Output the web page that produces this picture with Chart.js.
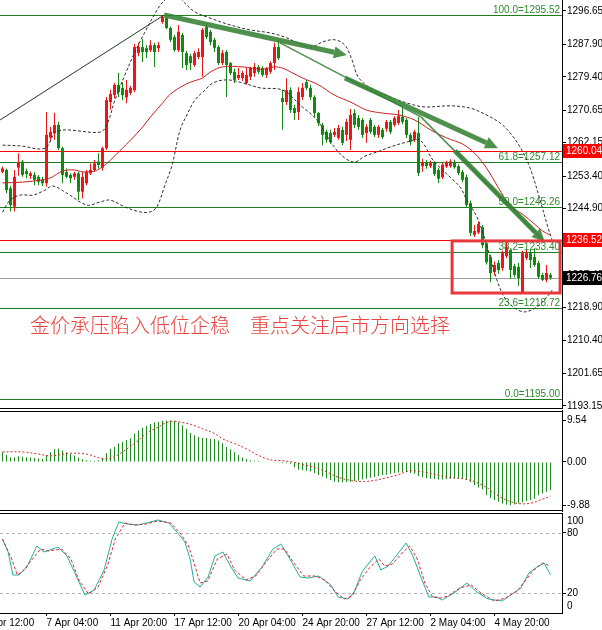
<!DOCTYPE html>
<html lang="zh">
<head>
<meta charset="UTF-8">
<title>XAUUSD H4</title>
<script src="https://cdn.jsdelivr.net/npm/chart.js"></script>
<style>
  body { margin: 0; background: #fff; width: 602px; height: 630px; overflow: hidden; position: relative; }
  canvas { position: absolute; left: 0; }
</style>
</head>
<body>
<canvas id="main" width="602" height="410" style="top:0"></canvas>
<canvas id="macd" width="602" height="102" style="top:410px"></canvas>
<canvas id="stoch" width="602" height="118" style="top:512px"></canvas>
<script>
// candles, one per H4 bar (index 0..137)
const opens = [
  1254.5,1255.0,1250.2,1245.4,1255.6,1257.2,1254.7,1253.4,1253.7,1253.2,
  1252.5,1251.5,1263.5,1264.6,1266.8,1260.7,1254.5,1253.7,1253.2,1254.1,
  1249.3,1251.5,1254.1,1255.0,1257.2,1255.6,1260.7,1272.8,1274.6,1277.3,
  1276.5,1274.0,1275.2,1275.9,1285.6,1287.2,1286.9,1286.4,1287.7,1286.9,
  1293.8,1294.8,1292.2,1289.8,1286.4,1290.4,1285.6,1284.8,1282.5,1284.6,
  1284.6,1292.5,1291.2,1289.1,1287.2,1283.0,1285.9,1283.0,1280.7,1279.1,
  1279.1,1277.8,1279.4,1280.4,1282.0,1281.7,1279.9,1280.7,1283.0,1287.2,
  1273.8,1272.8,1275.9,1271.2,1270.2,1274.1,1278.0,1276.5,1274.1,1269.9,
  1266.8,1265.0,1264.7,1264.2,1263.4,1265.5,1264.2,1262.9,1269.9,1268.6,
  1268.1,1264.7,1268.1,1266.3,1264.2,1265.5,1265.8,1267.6,1266.8,1267.3,
  1268.9,1268.1,1264.2,1262.9,1264.7,1256.0,1257.1,1256.0,1256.8,1255.0,
  1253.1,1255.9,1256.0,1257.1,1256.0,1254.5,1253.1,1246.3,1238.0,1238.6,
  1240.0,1235.8,1232.2,1228.3,1230.6,1229.3,1232.4,1234.0,1229.8,1229.6,
  1223.0,1231.9,1233.2,1232.2,1230.6,1227.5,1226.2,1227.5
];
const highs = [
  1255.9,1255.4,1250.8,1255.0,1259.4,1257.6,1255.4,1254.6,1254.5,1253.7,
  1253.2,1270.2,1266.3,1270.0,1267.6,1261.1,1255.4,1254.1,1254.5,1254.5,
  1254.5,1255.0,1256.7,1257.6,1259.4,1261.1,1274.1,1276.0,1277.8,1280.4,
  1278.0,1278.6,1277.0,1288.0,1288.3,1289.3,1287.7,1289.0,1288.3,1288.5,
  1295.52,1295.0,1292.5,1290.4,1293.0,1290.9,1286.2,1285.4,1286.2,1286.9,
  1292.2,1293.3,1291.7,1289.6,1287.7,1286.4,1286.4,1283.3,1281.5,1281.7,
  1281.0,1281.7,1282.0,1283.0,1282.5,1282.2,1282.0,1283.5,1288.3,1289.1,
  1276.0,1279.0,1276.7,1272.0,1276.7,1277.8,1278.6,1277.3,1274.6,1270.2,
  1267.3,1265.5,1265.5,1266.0,1266.8,1266.3,1268.4,1271.0,1270.9,1269.4,
  1268.6,1267.0,1268.6,1266.8,1266.8,1266.0,1268.1,1268.1,1269.1,1270.7,
  1271.5,1268.6,1264.7,1265.5,1268.9,1257.9,1257.6,1257.4,1257.3,1255.5,
  1256.8,1257.4,1257.8,1257.7,1256.5,1255.0,1253.8,1247.0,1240.6,1241.4,
  1240.6,1236.4,1232.8,1231.0,1231.4,1233.8,1236.4,1234.5,1230.4,1230.6,
  1233.8,1234.0,1234.0,1234.5,1231.2,1228.0,1230.1,1228.0
];
const lows = [
  1254.1,1248.9,1244.1,1244.1,1253.5,1253.2,1252.8,1252.6,1251.0,1251.0,
  1250.8,1250.6,1262.4,1262.9,1260.2,1251.5,1252.8,1251.5,1252.4,1247.1,
  1247.5,1251.0,1253.7,1254.5,1255.4,1254.8,1260.2,1270.8,1273.8,1274.1,
  1273.3,1272.5,1274.6,1275.4,1284.8,1283.3,1284.3,1285.9,1282.0,1285.9,
  1293.3,1291.9,1288.5,1286.0,1285.9,1281.7,1281.2,1281.2,1282.0,1284.0,
  1279.4,1289.3,1287.7,1285.9,1282.5,1282.5,1274.1,1279.9,1277.8,1278.6,
  1278.3,1277.3,1278.6,1279.4,1280.2,1279.4,1279.1,1280.2,1281.2,1283.8,
  1265.5,1272.0,1269.9,1268.1,1268.1,1273.3,1275.9,1273.3,1268.9,1266.5,
  1261.5,1262.1,1261.8,1263.6,1262.9,1261.5,1262.6,1260.2,1266.0,1265.5,
  1263.4,1262.1,1264.4,1263.6,1263.4,1263.1,1265.0,1264.4,1266.3,1266.8,
  1267.0,1263.4,1261.5,1262.3,1253.4,1254.5,1255.3,1255.5,1253.4,1251.6,
  1252.6,1255.5,1255.6,1255.3,1253.6,1251.8,1245.0,1237.7,1237.4,1238.2,
  1234.5,1230.2,1225.6,1227.4,1227.8,1228.6,1231.9,1226.4,1226.8,1224.6,
  1222.7,1231.4,1229.3,1229.6,1226.4,1225.9,1225.6,1226.2
];
const closes = [
  1255.4,1249.7,1245.8,1253.2,1256.9,1253.7,1253.9,1254.1,1252.4,1251.9,
  1251.5,1264.2,1265.0,1266.8,1260.7,1253.7,1253.2,1252.8,1254.1,1249.3,
  1253.2,1254.5,1255.0,1256.7,1256.3,1260.7,1273.3,1274.9,1277.3,1275.4,
  1274.6,1276.0,1276.5,1287.2,1287.2,1285.9,1285.9,1287.7,1285.9,1287.7,
  1295.1,1292.2,1289.1,1286.4,1291.2,1285.9,1282.5,1283.0,1285.6,1285.9,
  1291.7,1289.8,1288.5,1287.0,1283.0,1285.6,1282.5,1280.4,1278.6,1279.9,
  1280.4,1279.9,1281.7,1282.0,1280.7,1279.9,1281.7,1283.0,1287.2,1284.3,
  1272.8,1275.9,1270.7,1269.9,1275.4,1276.5,1276.5,1274.1,1269.9,1267.3,
  1264.2,1262.9,1262.3,1265.0,1266.0,1262.1,1267.6,1269.4,1266.8,1266.3,
  1264.2,1266.3,1265.0,1264.2,1266.3,1263.6,1267.6,1265.0,1268.6,1269.1,
  1267.6,1264.2,1262.3,1265.0,1254.2,1257.1,1256.0,1256.8,1253.9,1252.7,
  1256.4,1256.8,1257.2,1255.7,1254.2,1252.4,1245.8,1238.5,1239.0,1240.8,
  1235.3,1230.8,1228.0,1230.1,1228.8,1233.2,1234.8,1228.8,1227.5,1226.7,
  1233.2,1233.2,1231.4,1230.1,1227.0,1226.2,1228.0,1226.76
];

// moving average and bands, read as [bar, price]
const maLine = [
  [0,1251.6],[5,1251.8],[10,1252.4],[12,1252.9],[15,1254.7],[18,1255.0],[20,1254.5],[23,1254.7],
  [25,1255.8],[27,1257.6],[30,1260.7],[32,1262.8],[35,1266.2],[37,1268.9],[40,1272.5],[42,1274.9],
  [45,1277.0],[47,1278.0],[50,1279.1],[52,1280.7],[55,1282.0],[60,1282.0],[65,1281.4],[68,1282.0],
  [70,1281.7],[72,1280.7],[75,1279.1],[79,1277.3],[83,1274.6],[87,1272.8],[91,1270.7],[95,1269.9],
  [99,1269.4],[103,1268.1],[107,1265.5],[111,1263.4],[115,1261.8],[118,1259.4],[121,1255.5],
  [124,1250.3],[127,1245.5],[130,1243.4],[133,1240.8],[135,1239.0],[137,1237.9]
];
const bbUpper = [
  [0,1261.5],[4.4,1261.3],[10.6,1260.7],[13.1,1264.7],[15.6,1265.5],[24.4,1264.9],[26.1,1266.8],
  [28.1,1273.3],[30.6,1279.9],[33.1,1285.9],[35.6,1291.1],[38.1,1295.9],[40.1,1299.0],[43.1,1301.1],
  [45.6,1298.7],[48.1,1296.4],[51.9,1294.8],[56.9,1293.0],[61.9,1291.7],[66.9,1290.9],[70.6,1289.8],
  [74.4,1288.0],[77.4,1287.2],[79.9,1288.5],[83.1,1289.1],[85.6,1287.7],[87.4,1283.8],[88.9,1279.4],
  [91.9,1276.5],[96.9,1274.1],[101.9,1272.3],[105.6,1271.5],[111.9,1271.8],[116.9,1271.2],
  [120.6,1269.6],[124.4,1267.3],[126.9,1264.7],[129.4,1261.0],[131.9,1255.5],[134.4,1247.1],
  [136.4,1239.8],[137.4,1236.6]
];
const bbLower = [
  [0,1243.9],[1.9,1247.1],[4.4,1248.4],[7.6,1248.4],[10.6,1249.7],[12.6,1250.8],[16.1,1248.9],
  [21.1,1245.8],[24.4,1246.6],[26.9,1247.1],[30.6,1245.3],[34.4,1244.0],[36.9,1244.0],[38.6,1245.3],
  [40.6,1251.0],[42.4,1256.3],[44.4,1265.5],[46.1,1269.4],[48.1,1273.3],[50.6,1275.9],[52.6,1277.8],
  [56.1,1278.6],[60.1,1277.8],[64.4,1276.5],[70.1,1275.9],[74.4,1272.0],[78.6,1268.1],[82.6,1261.5],
  [85.6,1258.1],[88.1,1257.1],[90.6,1258.6],[93.6,1259.7],[96.9,1261.0],[101.1,1262.3],[104.4,1262.8],
  [107.6,1257.6],[111.9,1253.1],[114.4,1250.5],[116.1,1247.1],[118.6,1242.7],[120.1,1238.5],
  [121.9,1232.2],[123.6,1226.2],[125.6,1221.4],[128.1,1218.8],[130.6,1217.8],[133.6,1219.1],
  [136.1,1221.7],[137.4,1223.5]
];

const priceTicks = [1296.65,1287.90,1279.40,1270.65,1262.15,1253.40,1244.90,1236.15,1227.40,1218.90,1210.40,1201.65,1193.15];
const fibLevels = [100.0, 61.8, 50.0, 38.2, 23.6, 0.0];
const fibPrices = [1295.52, 1257.12, 1245.26, 1233.40, 1218.72, 1195.00];
const redLevels = [1260.04, 1236.52];
const bidPrice = 1226.76;

// drawn objects, in [bar, price] pairs
const thinDark = [[-0.6,1268.1],[40.4,1295.6]];
const thinGreen = [[[69.4,1288.3],[104.6,1268.9]], [[104.6,1268.9],[135.6,1236.1]]];
const arrows = [[[40.4,1295.6],[86.1,1285.1]], [[85.6,1279.1],[123.9,1260.7]], [[113.1,1260.0],[135.6,1236.1]]];
const boxBars = [112.4, 139.4];
const boxPrices = [1236.4, 1222.75];
const caption = '金价承压陷入低位企稳　重点关注后市方向选择';

// MACD
const macdHist = [
  2.2,1.6,1.0,1.1,1.3,1.2,1.1,1.0,0.9,0.8,
  0.7,1.6,2.2,2.9,3.1,2.6,2.2,1.8,1.5,1.0,
  0.6,0.4,0.3,0.3,0.4,0.9,2.0,3.0,3.5,4.2,
  4.6,5.0,5.4,6.5,7.2,7.8,8.3,8.7,9.0,9.2,
  9.4,9.5,9.54,9.4,9.0,8.4,7.6,6.6,6.1,5.7,
  5.5,5.5,5.3,5.2,4.9,4.3,3.4,2.9,2.2,1.6,
  1.0,0.7,0.4,0.3,0.2,0.1,0.1,-0.1,-0.2,-0.2,
  -0.3,-0.3,-0.4,-1.2,-1.8,-1.9,-2.0,-2.2,-2.6,-3.0,
  -3.3,-3.7,-4.1,-4.5,-4.6,-4.6,-4.6,-4.5,-4.4,-4.2,
  -4.0,-3.8,-3.6,-3.4,-3.2,-3.0,-2.9,-2.7,-2.5,-2.4,
  -2.3,-2.3,-2.5,-2.7,-3.2,-3.5,-3.7,-3.8,-3.9,-4.0,
  -4.0,-3.9,-3.8,-3.7,-3.7,-3.8,-4.0,-4.6,-5.3,-5.8,
  -6.3,-7.6,-8.2,-8.7,-9.1,-9.5,-9.7,-9.88,-9.7,-9.5,
  -9.2,-8.9,-8.7,-8.4,-7.6,-7.2,-6.8,-6.4
];
const macdSignal = [
  [0,2.3],[5,2.3],[9,1.8],[12,1.4],[17,2.0],[21,1.8],[24,1.0],[26,0.7],[28,1.2],[30,2.3],
  [33,4.2],[36,6.5],[39,8.0],[41,9.0],[43,9.3],[45,9.0],[47,8.6],[50,7.6],[53,6.5],[55,5.3],
  [58,4.2],[61,3.0],[64,1.5],[67,0.5],[70,0.3],[73,-0.1],[75,-0.6],[78,-1.2],[81,-2.3],[84,-3.5],
  [87,-4.2],[90,-4.5],[93,-4.2],[96,-3.6],[99,-2.9],[101,-2.2],[103,-2.0],[106,-2.4],[109,-3.0],
  [112,-3.6],[115,-3.8],[118,-4.5],[121,-5.8],[123,-7.2],[126,-8.7],[129,-9.5],[132,-9.4],
  [135,-8.5],[137,-7.8]
];
const macdTicks = [9.54, 0.00, -9.88];

// Stochastic
const stochK = [
  [0,74],[1.4,61],[2.6,38],[4.1,38],[6.1,46],[8.6,67],[10.4,61],[13.9,66],[16.1,57],[18.1,40],
  [20.6,18],[22.9,23],[25.4,43],[27.4,74],[29.1,91],[31.1,89],[33.9,88],[36.9,91],[38.9,93],[41.6,90],
  [43.6,81],[45.6,71],[46.9,54],[47.9,31],[49.4,26],[51.4,36],[53.1,57],[55.1,61],[57.1,46],[58.9,35],
  [61.9,32],[64.9,46],[67.6,64],[69.6,69],[71.4,57],[74.4,36],[76.4,35],[79.1,37],[82.1,28],[83.9,16],
  [86.4,14],[87.9,21],[89.9,41],[91.6,50],[93.1,57],[94.6,43],[96.4,47],[98.4,57],[100.9,70],[102.6,57],
  [104.6,36],[106.6,16],[108.6,16],[109.9,13],[112.9,20],[116.1,30],[118.6,21],[121.4,14],[124.9,12],
  [127.4,19],[129.6,25],[131.6,40],[133.6,46],[135.4,50],[137,38]
];
const stochD = [
  [0,74],[2.3,54],[3.7,38],[5.1,42],[7.5,54],[9.5,64],[11.4,62],[14.8,64],[17.1,54],[19.1,33],
  [21.5,19],[23.9,26],[26.3,48],[28.2,74],[30.6,90],[33,88],[35.9,89],[38.8,92],[42.1,90],[44.6,79],
  [46.5,67],[47.9,50],[49.4,30],[51.3,32],[53.7,54],[56.1,59],[58,43],[60.9,33],[63.3,37],[65.7,50],
  [68.6,64],[70.5,64],[72.5,52],[75.3,37],[78.2,37],[80.6,33],[83,22],[85.4,14],[87.4,17],[89.3,32],
  [91.7,45],[94.1,54],[95.5,47],[97.5,49],[99.9,60],[101.8,67],[103.7,54],[105.6,30],[107.5,16],
  [109.5,15],[111.4,17],[114.3,25],[117.2,28],[119.6,20],[122.9,12],[125.8,15],[128.7,22],[130.6,32],
  [132.6,42],[135,50],[137,47]
];
const stochTicks = [80, 20];
const stochEdgeTicks = [100, 0];
const stochLevels = [80, 20];

const timeIdx = [-5, 11, 27, 43, 59, 75, 91, 107, 123];
const timeLabels = ['4 Apr 12:00','7 Apr 04:00','11 Apr 20:00','17 Apr 12:00','20 Apr 04:00','24 Apr 20:00','27 Apr 12:00','2 May 04:00','4 May 20:00'];

// ---- styling ----
const RED = '#f01414', GREEN = '#128a12', FIB = '#2f8a2f', ARROW = 'rgba(52,130,52,0.88)';
const X_MIN = -0.625, X_MAX = 139.875;
Chart.defaults.font.family = '"Liberation Sans", Arial, sans-serif';
Chart.defaults.font.size = 10;
Chart.defaults.color = '#000';
Chart.defaults.animation = false;
Chart.defaults.plugins.legend.display = false;
Chart.defaults.plugins.tooltip.enabled = false;

const pts = arr => arr.map(([x, y]) => ({x, y}));
const idx = opens.map((_, i) => i);
const candleColors = idx.map(i => closes[i] >= opens[i] ? RED : GREEN);

function yAxisFit(s) { s.width = 40; s.paddingTop = 0; s.paddingBottom = 0; }
function rightAxis(min, max, ticks, fmt) {
  return {
    position: 'right', min, max, bounds: 'data',
    afterBuildTicks: s => { s.ticks = ticks.map(v => ({value: v})); },
    afterFit: yAxisFit,
    ticks: {callback: fmt, padding: 1, autoSkip: false},
    grid: {drawOnChartArea: false, drawTicks: true, tickLength: 4, color: '#000'},
    border: {display: true, color: '#000'}
  };
}
const hiddenX = {type: 'linear', min: X_MIN, max: X_MAX, bounds: 'data', offset: false, display: false};

function hline(ctx, x1, x2, y, color, dash) {
  ctx.save();
  ctx.strokeStyle = color; ctx.lineWidth = 1;
  if (dash) ctx.setLineDash(dash);
  const yy = Math.round(y) + 0.5;
  ctx.beginPath(); ctx.moveTo(x1, yy); ctx.lineTo(x2, yy); ctx.stroke();
  ctx.restore();
}
function seg(ctx, x1, y1, x2, y2, color, w) {
  ctx.save(); ctx.strokeStyle = color; ctx.lineWidth = w;
  ctx.beginPath(); ctx.moveTo(x1, y1); ctx.lineTo(x2, y2); ctx.stroke(); ctx.restore();
}
function arrow(ctx, x1, y1, x2, y2) {
  const a = Math.atan2(y2 - y1, x2 - x1), head = 13, hw = 6;
  const bx = x2 - head * Math.cos(a), by = y2 - head * Math.sin(a);
  ctx.save();
  ctx.strokeStyle = ARROW; ctx.fillStyle = ARROW; ctx.lineWidth = 5;
  ctx.beginPath(); ctx.moveTo(x1, y1); ctx.lineTo(bx, by); ctx.stroke();
  ctx.beginPath(); ctx.moveTo(x2, y2);
  ctx.lineTo(bx + hw * Math.sin(a), by - hw * Math.cos(a));
  ctx.lineTo(bx - hw * Math.sin(a), by + hw * Math.cos(a));
  ctx.closePath(); ctx.fill();
  ctx.restore();
}

const mainDecor = {
  id: 'mainDecor',
  beforeDatasetsDraw(chart) {
    const {ctx, chartArea: a, scales: {y}} = chart;
    fibPrices.forEach((p, i) => {
      const py = y.getPixelForValue(p);
      hline(ctx, a.left, a.right, py, '#1f801f');
      ctx.save();
      ctx.fillStyle = FIB; ctx.font = '10px "Liberation Sans"';
      ctx.textAlign = 'right'; ctx.textBaseline = 'bottom';
      ctx.fillText(fibLevels[i].toFixed(1) + '=' + p.toFixed(2), a.right - 2, Math.round(py));
      ctx.restore();
    });
    redLevels.forEach(p => hline(ctx, a.left, a.right, y.getPixelForValue(p), '#ff0000'));
    hline(ctx, a.left, a.right, y.getPixelForValue(bidPrice), '#a0a0a0');
  },
  afterDatasetsDraw(chart) {
    const {ctx, chartArea: a, scales: {x, y}} = chart;
    const P = ([b, p]) => [x.getPixelForValue(b), y.getPixelForValue(p)];
    ctx.save();
    ctx.beginPath(); ctx.rect(a.left, a.top, a.right - a.left, a.bottom - a.top); ctx.clip();
    let [p1, p2] = [P(thinDark[0]), P(thinDark[1])];
    seg(ctx, p1[0], p1[1], p2[0], p2[1], '#203820', 1);
    thinGreen.forEach(([s, e]) => { const q1 = P(s), q2 = P(e); seg(ctx, q1[0], q1[1], q2[0], q2[1], 'rgba(60,130,60,0.9)', 1.5); });
    arrows.forEach(([s, e]) => { const q1 = P(s), q2 = P(e); arrow(ctx, q1[0], q1[1], q2[0], q2[1]); });
    const bx1 = x.getPixelForValue(boxBars[0]), bx2 = x.getPixelForValue(boxBars[1]);
    const by1 = y.getPixelForValue(boxPrices[0]), by2 = y.getPixelForValue(boxPrices[1]);
    ctx.strokeStyle = '#e8383c'; ctx.lineWidth = 3;
    ctx.strokeRect(bx1, by1, bx2 - bx1, by2 - by1);
    ctx.fillStyle = '#ea4440';
    ctx.font = '300 20px "Noto Sans CJK SC"';
    ctx.textAlign = 'left'; ctx.textBaseline = 'alphabetic';
    ctx.fillText(caption, a.left + 30, 333);
    ctx.restore();
  },
  afterDraw(chart) {
    const {ctx, chartArea: a, scales: {y}} = chart;
    [[redLevels[0], '#ff0000'], [redLevels[1], '#ff0000'], [bidPrice, '#000000']].forEach(([p, c]) => {
      const py = Math.round(y.getPixelForValue(p));
      ctx.save();
      ctx.fillStyle = c; ctx.fillRect(a.right + 1, py - 7, 40, 14);
      ctx.fillStyle = '#fff'; ctx.font = '10px "Liberation Sans"';
      ctx.textAlign = 'left'; ctx.textBaseline = 'middle';
      ctx.fillText(p.toFixed(2), a.right + 4, py + 0.5);
      ctx.restore();
    });
    hline(ctx, 0, a.right, a.bottom, '#000');
  }
};

new Chart(document.getElementById('main'), {
  type: 'bar',
  data: {
    datasets: [
      {type: 'line', data: pts(maLine), borderColor: '#c81e1e', borderWidth: 1, pointRadius: 0, tension: 0.35, order: 0},
      {type: 'line', data: pts(bbUpper), borderColor: '#303030', borderWidth: 1, borderDash: [3, 2], pointRadius: 0, tension: 0.35, order: 0},
      {type: 'line', data: pts(bbLower), borderColor: '#303030', borderWidth: 1, borderDash: [3, 2], pointRadius: 0, tension: 0.35, order: 0},
      {data: idx.map(i => ({x: i, y: [lows[i], highs[i]]})), backgroundColor: candleColors, barThickness: 1, grouped: false, inflateAmount: 0, order: 2},
      {data: idx.map(i => ({x: i, y: [Math.min(opens[i], closes[i]), Math.max(opens[i], closes[i])]})), backgroundColor: candleColors, barThickness: 3, minBarLength: 1, grouped: false, inflateAmount: 0, order: 1}
    ]
  },
  options: {
    responsive: false, devicePixelRatio: 1,
    layout: {padding: {top: 0, bottom: 2, left: 0, right: 0}},
    scales: {
      x: hiddenX,
      y: rightAxis(1192.62, 1299.53, priceTicks, v => v.toFixed(2))
    }
  },
  plugins: [mainDecor]
});

const macdDecor = {
  id: 'macdDecor',
  afterDraw(chart) {
    const {ctx, chartArea: a} = chart;
    hline(ctx, 0, a.right, 1, '#000');
    hline(ctx, 0, a.right, 100, '#000');
  }
};
new Chart(document.getElementById('macd'), {
  type: 'bar',
  data: {
    datasets: [
      {type: 'line', data: pts(macdSignal), borderColor: '#d42a2a', borderWidth: 1, borderDash: [2, 2], pointRadius: 0, tension: 0.35, order: 0},
      {data: idx.map(i => ({x: i, y: macdHist[i]})), backgroundColor: '#1f8a1f', barThickness: 1, grouped: false, inflateAmount: 0, order: 1}
    ]
  },
  options: {
    responsive: false, devicePixelRatio: 1,
    layout: {padding: 0},
    scales: {
      x: hiddenX,
      y: rightAxis(-11.42, 11.87, macdTicks, v => v.toFixed(2))
    }
  },
  plugins: [macdDecor]
});

const stochDecor = {
  id: 'stochDecor',
  beforeDatasetsDraw(chart) {
    const {ctx, chartArea: a, scales: {y}} = chart;
    stochLevels.forEach(v => hline(ctx, a.left, a.right, y.getPixelForValue(v), '#b4b4b4', [3, 3]));
  },
  afterDraw(chart) {
    const {ctx, chartArea: a, scales: {y}} = chart;
    hline(ctx, 0, a.right, a.top, '#000');
    ctx.save();
    ctx.fillStyle = '#000'; ctx.font = '10px "Liberation Sans"';
    ctx.textAlign = 'left'; ctx.textBaseline = 'middle';
    ctx.fillText(String(stochEdgeTicks[0]), a.right + 5, y.getPixelForValue(stochEdgeTicks[0]) + 8);
    ctx.fillText(String(stochEdgeTicks[1]), a.right + 5, y.getPixelForValue(stochEdgeTicks[1]) - 7);
    ctx.restore();
  }
};
new Chart(document.getElementById('stoch'), {
  type: 'line',
  data: {
    datasets: [
      {data: pts(stochD), borderColor: '#e02828', borderWidth: 1, borderDash: [3, 2], pointRadius: 0, tension: 0},
      {data: pts(stochK), borderColor: '#1fb0a6', borderWidth: 1, pointRadius: 0, tension: 0}
    ]
  },
  options: {
    responsive: false, devicePixelRatio: 1,
    layout: {padding: {top: 1, bottom: 0, left: 0, right: 0}},
    scales: {
      x: {
        type: 'linear', min: X_MIN, max: X_MAX, bounds: 'data', offset: false,
        afterBuildTicks: s => { s.ticks = timeIdx.map(v => ({value: v})); },
        afterFit: s => { s.height = 17; s.paddingLeft = 0; s.paddingRight = 0; },
        ticks: {align: 'start', maxRotation: 0, minRotation: 0, autoSkip: false, padding: 1,
                callback: v => timeLabels[timeIdx.indexOf(v)]},
        grid: {drawOnChartArea: false, drawTicks: true, tickLength: 3, color: '#000'},
        border: {display: true, color: '#000'}
      },
      y: rightAxis(0, 100, stochTicks, v => String(v))
    }
  },
  plugins: [stochDecor]
});
</script>
</body>
</html>
